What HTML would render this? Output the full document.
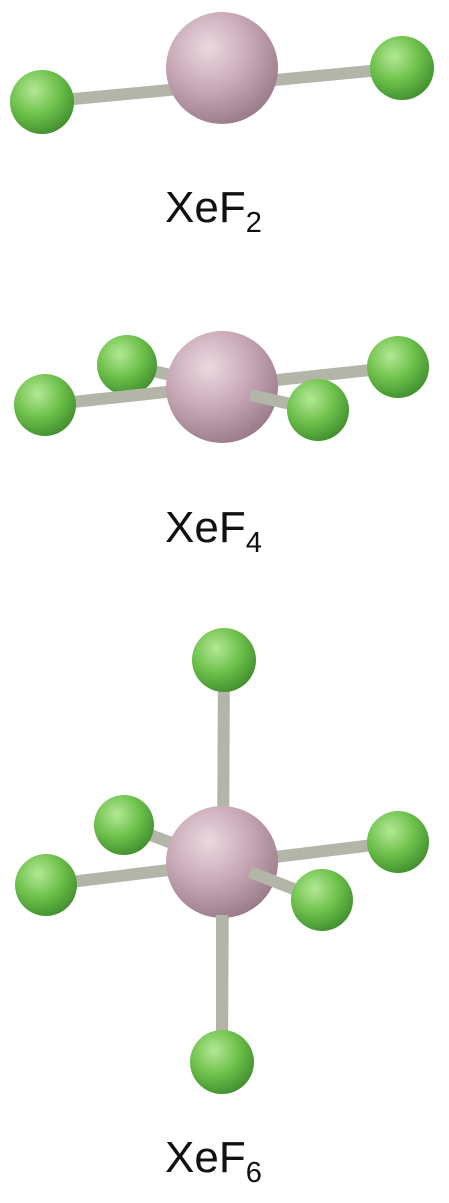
<!DOCTYPE html>
<html><head><meta charset="utf-8"><style>
html,body{margin:0;padding:0;background:#fff;width:449px;height:1203px;overflow:hidden}
text{font-family:"Liberation Sans",sans-serif;fill:#111}
</style></head><body>
<svg width="449" height="1203" viewBox="0 0 449 1203">
<defs>
<radialGradient id="xe" cx="0.38" cy="0.32" r="0.75">
<stop offset="0" stop-color="#ead9e0"/><stop offset="0.5" stop-color="#c8a8b6"/><stop offset="1" stop-color="#947684"/></radialGradient>
<radialGradient id="f" cx="0.38" cy="0.32" r="0.75">
<stop offset="0" stop-color="#b4e896"/><stop offset="0.5" stop-color="#6fc24c"/><stop offset="1" stop-color="#3c8a2c"/></radialGradient>
</defs>
<g>
<line x1="42" y1="102" x2="402" y2="68" stroke="#b4b5a9" stroke-width="12"/>
<circle cx="42" cy="102" r="32" fill="url(#f)"/>
<circle cx="402" cy="68" r="32" fill="url(#f)"/>
<circle cx="222" cy="68" r="56" fill="url(#xe)"/>
</g>
<text x="165" y="222" font-size="44">XeF<tspan font-size="29" dy="10">2</tspan></text>

<g>
<line x1="127" y1="365" x2="222" y2="387" stroke="#b4b5a9" stroke-width="12"/>
<circle cx="127" cy="365" r="30" fill="url(#f)"/>
<line x1="45" y1="405" x2="398" y2="367" stroke="#b4b5a9" stroke-width="12"/>
<circle cx="45" cy="405" r="31" fill="url(#f)"/>
<circle cx="398" cy="367" r="31" fill="url(#f)"/>
<circle cx="222" cy="387" r="56" fill="url(#xe)"/>
<line x1="250" y1="395" x2="318" y2="410" stroke="#b4b5a9" stroke-width="12"/>
<circle cx="318" cy="410" r="31" fill="url(#f)"/>
</g>
<text x="165" y="542" font-size="44">XeF<tspan font-size="29" dy="10">4</tspan></text>

<g>
<line x1="224" y1="660" x2="222" y2="1062" stroke="#b4b5a9" stroke-width="12"/>
<circle cx="224" cy="660" r="32" fill="url(#f)"/>
<line x1="124" y1="825" x2="222" y2="862" stroke="#b4b5a9" stroke-width="12"/>
<circle cx="124" cy="825" r="30" fill="url(#f)"/>
<line x1="46" y1="885" x2="398" y2="842" stroke="#b4b5a9" stroke-width="12"/>
<circle cx="46" cy="885" r="31" fill="url(#f)"/>
<circle cx="398" cy="842" r="31" fill="url(#f)"/>
<circle cx="222" cy="862" r="56" fill="url(#xe)"/>
<line x1="250" y1="872" x2="322" y2="900" stroke="#b4b5a9" stroke-width="12"/>
<circle cx="322" cy="900" r="31" fill="url(#f)"/>
<line x1="222" y1="915" x2="222" y2="1062" stroke="#b4b5a9" stroke-width="12"/>
<circle cx="222" cy="1062" r="32" fill="url(#f)"/>
</g>
<text x="165" y="1172" font-size="44">XeF<tspan font-size="29" dy="10">6</tspan></text>
</svg>
</body></html>
